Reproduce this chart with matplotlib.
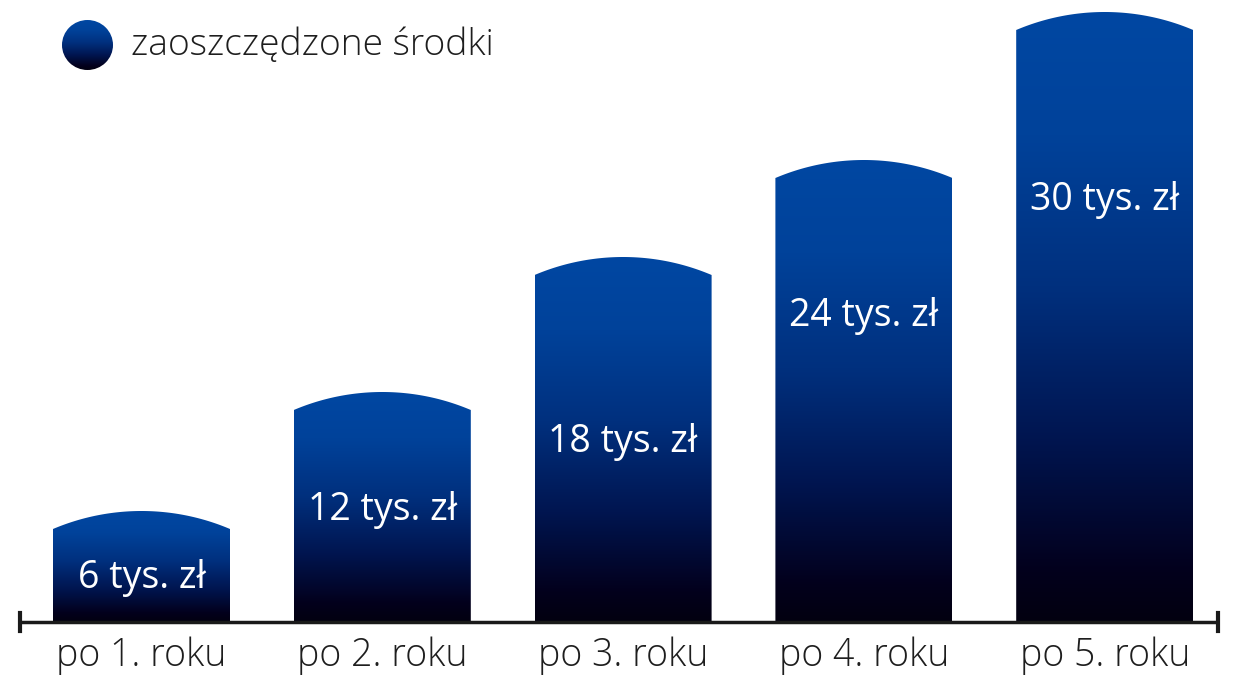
import numpy as np
import matplotlib
matplotlib.use("Agg")
import matplotlib.pyplot as plt
from matplotlib.colors import LinearSegmentedColormap
from matplotlib.patches import Polygon, Ellipse

# ---- data ----
categories = ["po 1. roku", "po 2. roku", "po 3. roku", "po 4. roku", "po 5. roku"]
values = [6, 12, 18, 24, 30]  # tys. zł
value_labels = [f"{v} tys. zł" for v in values]
# visual bar heights (shoulder of the rounded top)
bar_heights = [93, 212, 347, 444, 592]
legend_label = "zaoszczędzone środki"

# ---- layout / style ----
label_y = [44, 112, 180, 306, 422]   # vertical position of value labels inside bars
W, H = 1239, 689
x0_px, step_px = 141.5, 240.8
bar_w = 177 / step_px
arc_h = 18
axis_px = 622

cmap = LinearSegmentedColormap.from_list(
    "bar", [(0.0, "#020010"), (0.08, "#03001c"), (0.3, "#001550"),
            (0.55, "#00307e"), (0.8, "#00429a"), (1.0, "#0047a2")])

plt.rcParams['font.family'] = ['Open Sans', 'DejaVu Sans']

fig = plt.figure(figsize=(W / 100, H / 100), dpi=100)
ax = fig.add_axes([0, 0, 1, 1])
ax.set_xlim(-x0_px / step_px, (W - x0_px) / step_px)
ax.set_ylim(-(H - axis_px), axis_px)
ax.axis("off")

# rounded-top bar geometry
c_px = bar_w * step_px
R = (c_px ** 2 / 4 + arc_h ** 2) / (2 * arc_h)

for i, h in enumerate(bar_heights):
    xs = np.linspace(i - bar_w / 2, i + bar_w / 2, 80)
    dx = (xs - i) * step_px
    top = h + arc_h - (R - np.sqrt(R ** 2 - dx ** 2))
    pts = [(i - bar_w / 2, 0)] + list(zip(xs, top)) + [(i + bar_w / 2, 0)]
    poly = Polygon(pts, closed=True, facecolor="none", edgecolor="none")
    ax.add_patch(poly)
    grad = np.linspace(0, 1, 256).reshape(-1, 1)
    im = ax.imshow(grad, cmap=cmap, origin="lower", aspect="auto",
                   extent=(i - bar_w / 2, i + bar_w / 2, 0, h + arc_h),
                   interpolation="bilinear", zorder=2)
    im.set_clip_path(poly)
    ax.text(i, label_y[i], value_labels[i], color="white", fontsize=27,
            ha="center", va="center", zorder=3)
    ax.text(i, -34, categories[i], color="#1e1e1e", fontsize=27,
            ha="center", va="center", fontweight=300)

# axis line with end ticks
xl = (20 - x0_px) / step_px
xr = (1218 - x0_px) / step_px
ax.plot([xl, xr], [0, 0], color="#1a1a1a", lw=2.5, zorder=4, solid_capstyle="butt")
for xe in (xl, xr):
    ax.plot([xe, xe], [-9, 9], color="#1a1a1a", lw=3, zorder=4)

ax.set_xlim(-x0_px / step_px, (W - x0_px) / step_px)
ax.set_ylim(-(H - axis_px), axis_px)

# legend in pixel coordinates
lax = fig.add_axes([0, 0, 1, 1])
lax.set_xlim(0, W)
lax.set_ylim(H, 0)
lax.axis("off")
lax.patch.set_alpha(0)
ell = Ellipse((87.5, 45), 51, 50, facecolor="none", edgecolor="none")
lax.add_patch(ell)
g = np.linspace(0, 1, 256).reshape(-1, 1)
im = lax.imshow(g[::-1], cmap=cmap, origin="upper", aspect="auto",
                extent=(62, 113, 70, 20), interpolation="bilinear")
im.set_clip_path(ell)
lax.text(131, 46, legend_label, fontsize=26.8, color="#1e1e1e", va="center",
         ha="left", fontweight=300)

fig.savefig("out.png", dpi=100)
